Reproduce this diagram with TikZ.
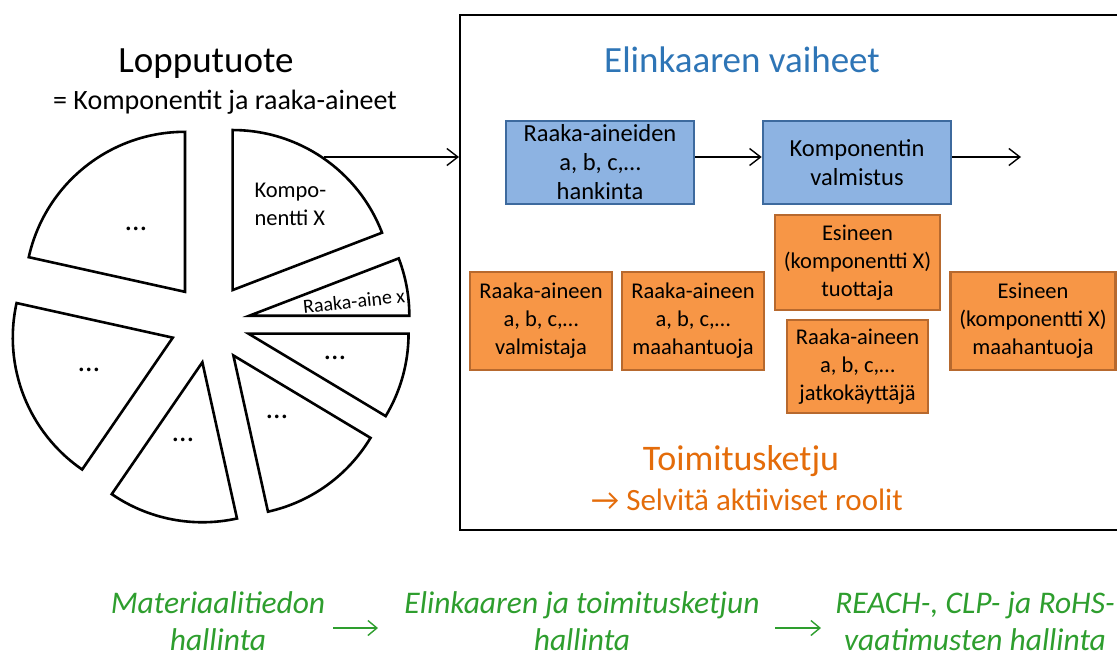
\documentclass[tikz,border=0pt]{standalone}
\usepackage{fontspec}
\setmainfont{Carlito}
\usetikzlibrary{arrows.meta}
\definecolor{bluefill}{HTML}{8DB3E2}
\definecolor{blueline}{HTML}{3D6A9E}
\definecolor{orfill}{HTML}{F79646}
\definecolor{orline}{HTML}{B7692E}
\definecolor{titleblue}{HTML}{2E75B6}
\definecolor{ortext}{HTML}{E46C0A}
\definecolor{gtext}{HTML}{2E9E2E}
\begin{document}
\begin{tikzpicture}[x=1pt,y=1pt,
  wedge/.style={draw=black,line width=2.6pt,fill=white},
  bluebox/.style={draw=blueline,fill=bluefill,line width=2.6pt,inner sep=0pt,align=center,
    font=\fontsize{24.5}{29}\selectfont},
  orbox/.style={draw=orline,fill=orfill,line width=2.6pt,inner sep=0pt,align=center,
    font=\fontsize{22.5}{28}\selectfont},
  arr/.style={-{Straight Barb[length=11pt,width=17pt,line width=1.4pt]},line width=1.4pt},
  garr/.style={draw=gtext,-{Straight Barb[length=9pt,width=15pt,line width=1.4pt]},line width=1.4pt},
  dots/.style={font=\fontsize{30}{34}\selectfont},
  gtxt/.style={text=gtext,align=center,font=\fontsize{31.5}{37}\selectfont\itshape}]
\useasboundingbox (0,0) rectangle (1117,-657);
\clip (0,0) rectangle (1117,-657);

% left titles
\node[anchor=base,font=\fontsize{37}{44}\selectfont] (lt) at (206,-72) {Lopputuote};
\node[anchor=base,font=\fontsize{28}{33}\selectfont] (ls) at (225,-109) {= Komponentit ja raaka-aineet};

% pie
\foreach \a/\b in {0/21,21/90,90/167.5,167.5/235.5,235.5/282.5,282.5/329,329/360}{
  \pgfmathsetmacro\m{(\a+\b)/2}
  \draw[wedge] (210,-323) ++(\m:40) -- ++(\a:160) arc[start angle=\a,end angle=\b,radius=160] -- cycle;
}
\node[anchor=base west,font=\fontsize{22.5}{28}\selectfont] (k1) at (251,-197) {Kompo-};
\node[anchor=base west,font=\fontsize{22.5}{28}\selectfont] (k2) at (251,-225) {nentti X};
\node[rotate=6,font=\fontsize{20}{24}\selectfont] (rx) at (354,-301) {Raaka-aine x};
\node[dots] (d1) at (136,-229) {…};
\node[dots] (d2) at (89,-370) {…};
\node[dots] (d3) at (183,-440) {…};
\node[dots] (d4) at (277,-417) {…};
\node[dots] (d5) at (335,-358) {…};

% frame
\draw[line width=2pt] (1130,-15) -- (460,-15) -- (460,-530) -- (1130,-530);
\coordinate (kx) at (324,-157);
\coordinate (fw) at (459,-157);
\draw[arr] (kx) -- (fw);

\node[anchor=base,text=titleblue,font=\fontsize{37}{44}\selectfont] (et) at (742,-72) {Elinkaaren vaiheet};

% blue boxes
\node[bluebox,minimum width=188,minimum height=83] (b1) at (600,-162.5)
  {Raaka-aineiden\\a, b, c,…\\hankinta};
\node[bluebox,minimum width=188,minimum height=83] (b2) at (857,-162.5)
  {Komponentin\\valmistus};
\coordinate (bout) at (1021,-157);
\draw[arr] (b1.east |- 0,-157) -- (b2.west |- 0,-157);
\draw[arr] (b2.east |- 0,-157) -- (bout);

% orange boxes
\node[orbox,minimum width=165,minimum height=95] (ot) at (857.5,-262.5)
  {Esineen\\(komponentti X)\\tuottaja};
\node[orbox,minimum width=142,minimum height=98] (ov) at (541,-321)
  {Raaka-aineen\\a, b, c,…\\valmistaja};
\node[orbox,minimum width=142,minimum height=98] (om) at (693,-321)
  {Raaka-aineen\\a, b, c,…\\maahantuoja};
\node[orbox,minimum width=165,minimum height=98] (oe) at (1033,-321)
  {Esineen\\(komponentti X)\\maahantuoja};
\node[orbox,minimum width=141,minimum height=93] (oj) at (857.5,-366.5)
  {Raaka-aineen\\a, b, c,…\\jatkokäyttäjä};

% supply chain
\node[anchor=base,text=ortext,font=\fontsize{36}{42}\selectfont] (tk) at (741,-470) {Toimitusketju};
\node[anchor=base,text=ortext,font=\fontsize{31}{36}\selectfont] (sr) at (747,-510) {→ Selvitä aktiiviset roolit};

% bottom line
\node[gtxt] (g1) at (218,-621) {Materiaalitiedon\\hallinta};
\node[gtxt] (g2) at (582,-621) {Elinkaaren ja toimitusketjun\\hallinta};
\node[gtxt] (g3) at (975,-621) {REACH-, CLP- ja RoHS-\\vaatimusten hallinta};
\coordinate (a1s) at (333,-628);
\coordinate (a1e) at (378,-628);
\coordinate (a2s) at (775,-628);
\coordinate (a2e) at (821,-628);
\draw[garr] (a1s) -- (a1e);
\draw[garr] (a2s) -- (a2e);
\end{tikzpicture}
\end{document}
